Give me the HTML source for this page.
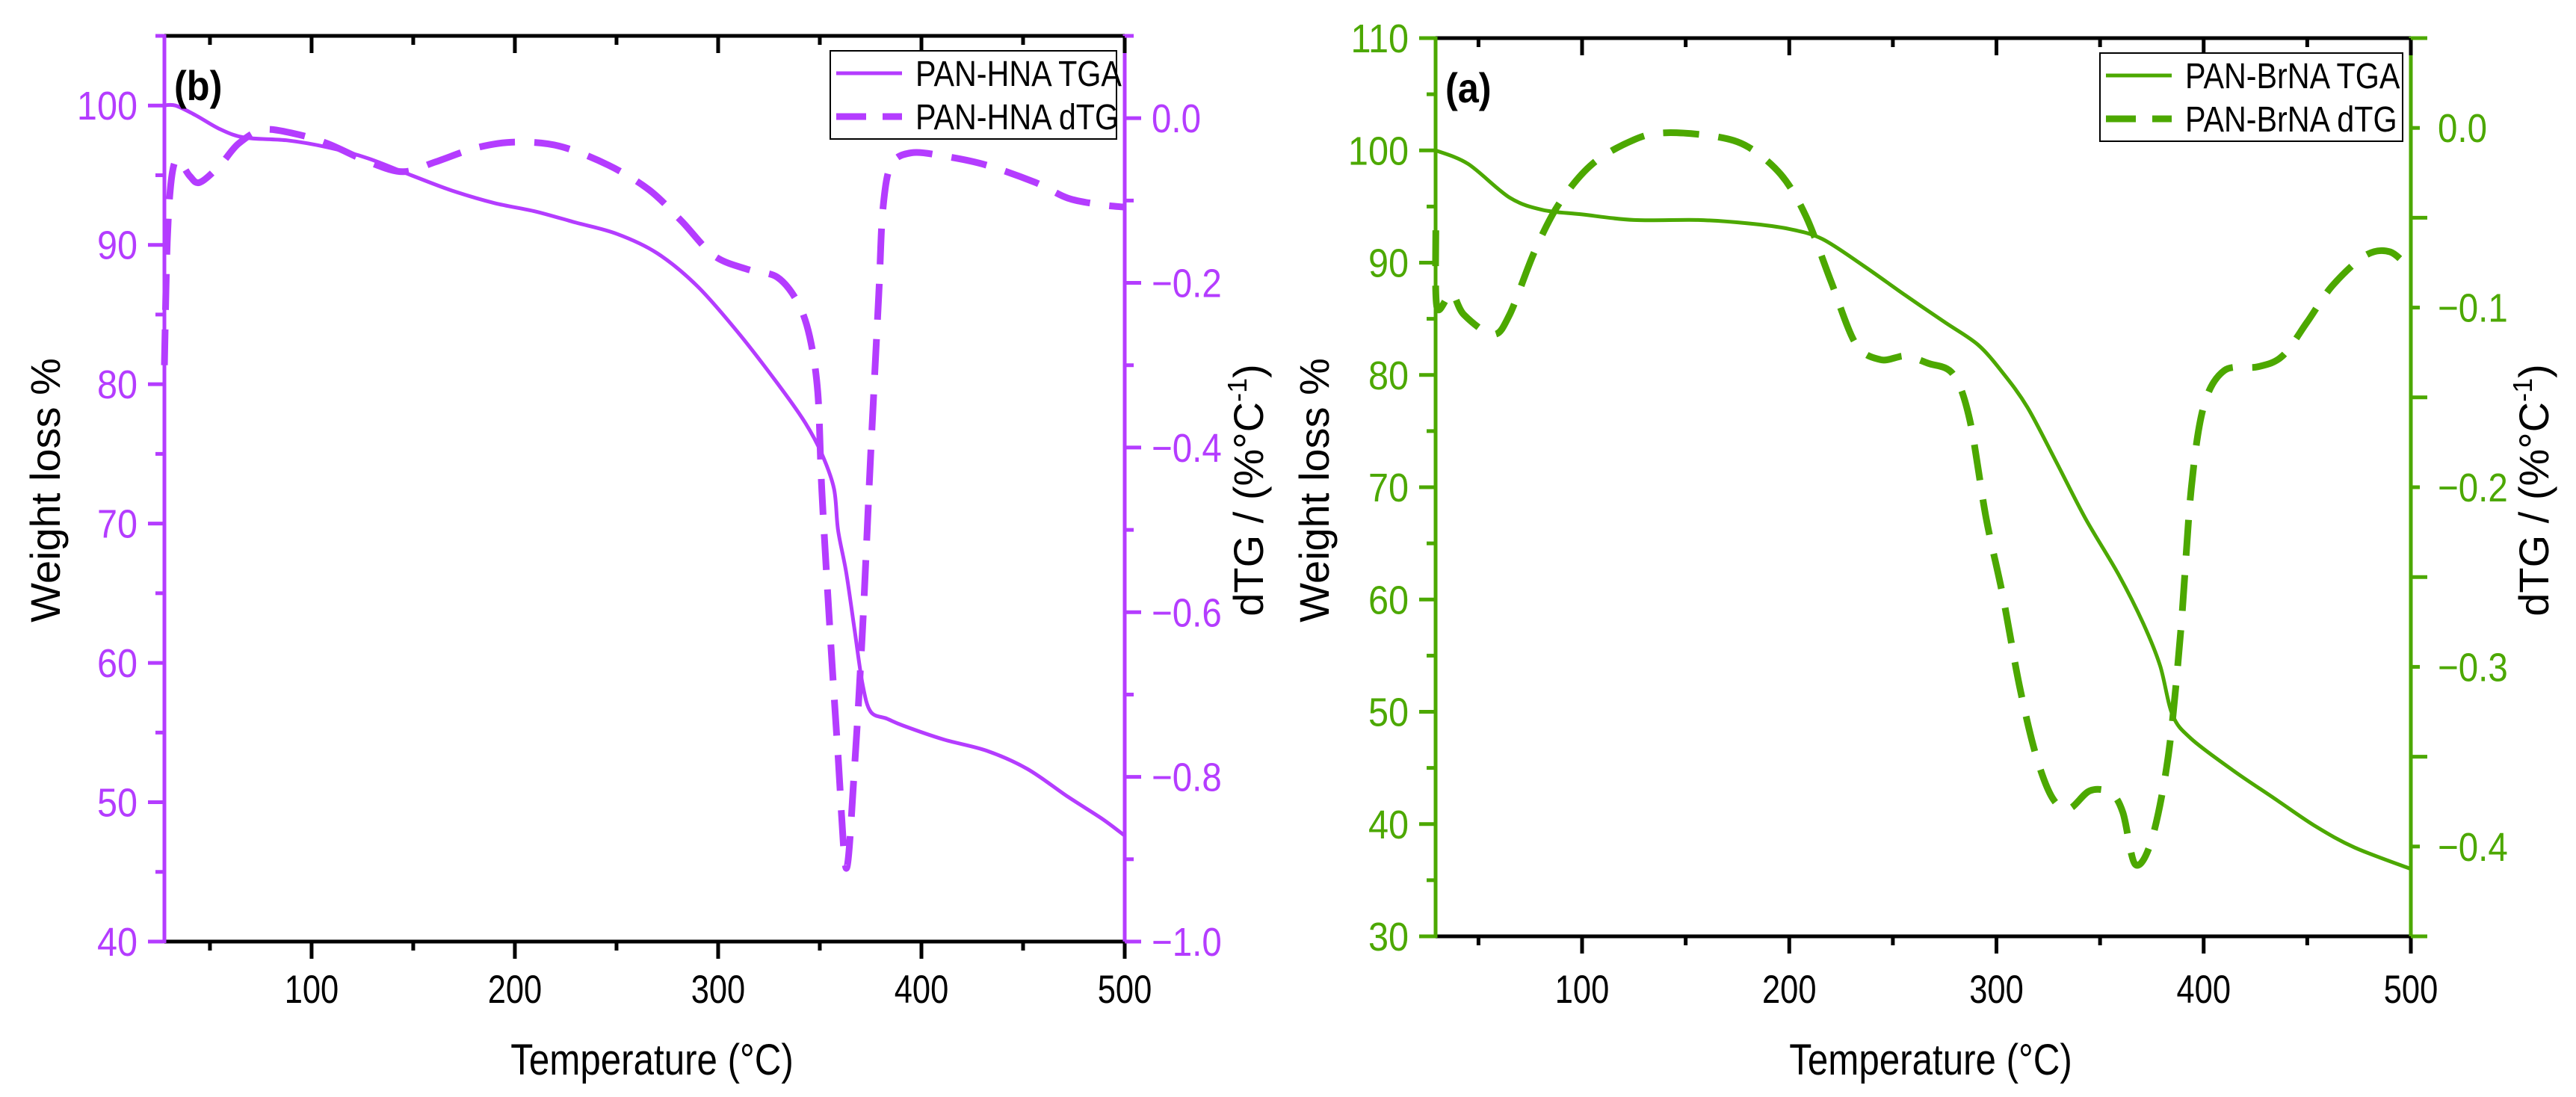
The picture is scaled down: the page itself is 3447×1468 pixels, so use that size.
<!DOCTYPE html>
<html><head><meta charset="utf-8"><style>
html,body{margin:0;padding:0;background:#fff}
svg{display:block}
text{font-family:"Liberation Sans",Arial,sans-serif}
</style></head><body>
<svg id="chart" xmlns="http://www.w3.org/2000/svg" width="3447" height="1468" viewBox="0 0 3447 1468"></svg>
<script>
// ---- Panel (b): PAN-HNA ----
const hnaTgaT = [27,33,43,55,67,88,108,128,149,169,190,210,230,250,270,290,311,331,343,351,357,359,363,367,371,375,383,391,411,432,452,472,489,500];
const hnaTgaW = [100,100,99.3,98.3,97.7,97.5,97.0,96.2,95.0,93.9,93.0,92.4,91.6,90.8,89.4,87.0,83.5,79.7,77.2,75.0,72.5,69.5,66.5,62.5,58.5,56.5,56.0,55.5,54.5,53.7,52.4,50.4,48.8,47.6];
const hnaDtgT = [27.6,29,31,34,40,45,55,64,76,92,108,128,145,161,181,200,222,246,266,282,298,315,329,339,345,349,351,355,359,363,367,371,375,379,381,385,395,411,432,456,472,488,500];
const hnaDtgV = [-0.3,-0.15,-0.075,-0.05,-0.07,-0.078,-0.057,-0.031,-0.014,-0.019,-0.031,-0.053,-0.065,-0.053,-0.036,-0.029,-0.034,-0.057,-0.087,-0.125,-0.167,-0.184,-0.193,-0.223,-0.265,-0.333,-0.452,-0.622,-0.775,-0.911,-0.792,-0.622,-0.41,-0.214,-0.112,-0.057,-0.042,-0.046,-0.057,-0.078,-0.097,-0.105,-0.108];
// ---- Panel (a): PAN-BrNA ----
const brTgaT = [29.4,45,65,81,100,125,156,180,200,216,236,256,275,291,303,315,329,343,359,371,379,385,394,414,434,454,473,500];
const brTgaW = [100,98.8,95.8,94.7,94.3,93.8,93.8,93.5,93.0,92.1,89.7,87.1,84.7,82.7,80.2,77.1,72.2,67.2,62.2,57.8,54.1,49.7,47.6,44.8,42.3,39.8,37.9,36.0];
const brDtgT = [29.4,30,37,43,57,65,77,89,105,125,140,164,180,196,208,220,232,244,256,267,279,287,295,303,311,319,327,335,345,355,361,367,375,383,389,394,400,410,426,438,450,462,478,490,500];
const brDtgV = [-0.057,-0.1,-0.092,-0.104,-0.115,-0.104,-0.069,-0.042,-0.020,-0.0066,-0.0027,-0.0047,-0.0105,-0.026,-0.049,-0.085,-0.12,-0.129,-0.127,-0.131,-0.137,-0.162,-0.217,-0.26,-0.31,-0.349,-0.373,-0.379,-0.369,-0.37,-0.381,-0.41,-0.396,-0.349,-0.279,-0.201,-0.155,-0.135,-0.133,-0.127,-0.108,-0.088,-0.071,-0.069,-0.079];
const xTicks = [100,200,300,400,500];
const hnaLeftTicks = [40,50,60,70,80,90,100];
const hnaRightTicks = [-1.0,-0.8,-0.6,-0.4,-0.2,0.0];
const brLeftTicks = [30,40,50,60,70,80,90,100,110];
const brRightTicks = [-0.4,-0.3,-0.2,-0.1,0.0];

const NS = "http://www.w3.org/2000/svg";
const svg = document.getElementById('chart');
function mk(tag, attrs, parent){
  const e = document.createElementNS(NS, tag);
  for (const k in attrs) e.setAttribute(k, attrs[k]);
  (parent||svg).appendChild(e);
  return e;
}
function txt(s, x, y, size, color, anchor, parent, weight, sx){
  const t = mk('text', {x:0, y:0, 'font-size':size, fill:color, 'text-anchor':anchor||'start',
    transform:'translate('+x+','+y+') scale('+(sx||0.88)+',1)'}, parent);
  if (weight) t.setAttribute('font-weight', weight);
  t.textContent = s;
  return t;
}
function fmt(v){ return (v<0?'\u2212':'') + Math.abs(v).toFixed(1); }
function smoothPath(pts){
  let d = 'M' + pts[0][0].toFixed(1) + ' ' + pts[0][1].toFixed(1);
  for (let i = 0; i < pts.length - 1; i++){
    const p0 = pts[Math.max(0,i-1)], p1 = pts[i], p2 = pts[i+1], p3 = pts[Math.min(pts.length-1,i+2)];
    const k = 0.16;
    const c1x = p1[0] + (p2[0]-p0[0])*k, c1y = p1[1] + (p2[1]-p0[1])*k;
    const c2x = p2[0] - (p3[0]-p1[0])*k, c2y = p2[1] - (p3[1]-p1[1])*k;
    d += 'C' + c1x.toFixed(1)+' '+c1y.toFixed(1)+' '+c2x.toFixed(1)+' '+c2y.toFixed(1)+' '+p2[0].toFixed(1)+' '+p2[1].toFixed(1);
  }
  return d;
}

function panel(cfg){
  const g = mk('g', {});
  
  
  const X = t => cfg.x0 + (t - cfg.tmin) * (cfg.x1 - cfg.x0) / (500 - cfg.tmin);
  const YL = v => cfg.y1 - (v - cfg.lmin) * (cfg.y1 - cfg.y0) / (cfg.lmax - cfg.lmin);
  const YR = v => cfg.y1 - (v - cfg.rmin) * (cfg.y1 - cfg.y0) / (cfg.rmax - cfg.rmin);
  const col = cfg.color;
  const p1 = mk('path', {d:smoothPath(cfg.tgaT.map((t,i)=>[X(t), YL(cfg.tgaW[i])])), fill:'none', stroke:col, 'stroke-width':5, 'stroke-linejoin':'round'}, g);
  
  
  const p2 = mk('path', {d:smoothPath(cfg.dtgT.map((t,i)=>[X(t), YR(cfg.dtgV[i])])), fill:'none', stroke:col, 'stroke-width':9, 'stroke-dasharray':'48,26', 'stroke-linejoin':'round'}, g);
  
  
  const ax = mk('g', {}, g);
  
  
  mk('line', {x1:cfg.x0, y1:cfg.y1, x2:cfg.x1, y2:cfg.y1, stroke:'#000', 'stroke-width':5}, ax);
  mk('line', {x1:cfg.x0, y1:cfg.y0, x2:cfg.x1, y2:cfg.y0, stroke:'#000', 'stroke-width':5}, ax);
  mk('line', {x1:cfg.x0, y1:cfg.y0-2, x2:cfg.x0, y2:cfg.y1+2, stroke:col, 'stroke-width':5}, ax);
  mk('line', {x1:cfg.x1, y1:cfg.y0-2, x2:cfg.x1, y2:cfg.y1+2, stroke:col, 'stroke-width':5}, ax);
  for (let t = 50; t <= 500; t += 50){
    if (t < cfg.tmin) continue;
    const major = t % 100 === 0;
    const x = X(t);
    mk('line', {x1:x, y1:cfg.y1, x2:x, y2:cfg.y1 + (major?23:12), stroke:'#000', 'stroke-width':5}, ax);
    mk('line', {x1:x, y1:cfg.y0, x2:x, y2:cfg.y0 + (major?23:12), stroke:'#000', 'stroke-width':5}, ax);
  }
  xTicks.forEach(t => {
    const l = txt(String(t), X(t), 1342, 53, '#000', 'middle', ax, null, 0.82);
    
    
  });
  for (let v = cfg.lmin; v <= cfg.lmax + 1e-9; v += cfg.lstep/2){
    const y = YL(v);
    const major = Math.abs(((v - cfg.lmin) / cfg.lstep) - Math.round((v - cfg.lmin) / cfg.lstep)) < 1e-6;
    mk('line', {x1:cfg.x0, y1:y, x2:cfg.x0 - (major?22:12), y2:y, stroke:col, 'stroke-width':5}, ax);
  }
  cfg.lticks.forEach(v => {
    const l = txt(String(v), cfg.x0 - 36, YL(v) + 19, 54, col, 'end', ax, null, 0.9);
    
    
  });
  for (let k = 0; ; k++){
    const v = cfg.rmin + k * cfg.rstep/2;
    if (v > cfg.rmax + 1e-9) break;
    const y = YR(v);
    const major = k % 2 === 0;
    mk('line', {x1:cfg.x1, y1:y, x2:cfg.x1 + (major?22:12), y2:y, stroke:col, 'stroke-width':5}, ax);
  }
  cfg.rticks.forEach(v => {
    const l = txt(fmt(v), cfg.x1 + 36, YR(v) + 19, 54, col, 'start', ax, null, 0.88);
    
    
  });
  const xt = txt('Temperature (\u00B0C)', (cfg.x0+cfg.x1)/2 + 10, 1438, 58, '#000', 'middle', g, null, 0.85);
  
  
  const yt = mk('text', {x:0, y:0, 'font-size':56, fill:'#000', 'text-anchor':'middle', transform:'translate('+cfg.ltitleX+',656) rotate(-90)'}, g);
  yt.textContent = 'Weight loss %';
  
  
  const rt = mk('text', {x:0, y:0, 'font-size':56, fill:'#000', 'text-anchor':'middle', transform:'translate('+cfg.rtitleX+',656) rotate(-90)'}, g);
  rt.innerHTML = 'dTG / (%\u00B0C<tspan font-size="36" dy="-22">-1</tspan><tspan dy="22">)</tspan>';
  
  
  const pl = txt(cfg.label, cfg.x0 + 13, cfg.y0 + 86, 56, '#000', 'start', g, 'bold', 0.9);
  
  
  const lg = mk('g', {}, g);
  
  
  mk('rect', {x:cfg.legX, y:cfg.y0+20, width:cfg.x1-11-cfg.legX, height:118, fill:'#fff', stroke:'#000', 'stroke-width':2}, lg);
  mk('line', {x1:cfg.legX+8, y1:cfg.y0+50, x2:cfg.legX+96, y2:cfg.y0+50, stroke:col, 'stroke-width':5}, lg);
  mk('line', {x1:cfg.legX+8, y1:cfg.y0+108, x2:cfg.legX+96, y2:cfg.y0+108, stroke:col, 'stroke-width':9, 'stroke-dasharray':'40,22'}, lg);
  const e1 = txt(cfg.name1, cfg.legX+114, cfg.y0+67, 48, '#000', 'start', lg, null, 0.86);
  
  
  const e2 = txt(cfg.name2, cfg.legX+114, cfg.y0+125, 48, '#000', 'start', lg, null, 0.86);
  
  
}

panel({name:'panel-b-hna', color:'#b43cff', x0:220, x1:1505, y0:48, y1:1260, tmin:27.6,
  lmin:40, lmax:105, lstep:10, rmin:-1.0, rmax:0.1, rstep:0.2,
  lticks:hnaLeftTicks, rticks:hnaRightTicks, tgaT:hnaTgaT, tgaW:hnaTgaW, dtgT:hnaDtgT, dtgV:hnaDtgV,
  ltitleX:80, rtitleX:1690, label:'(b)', legX:1111, name1:'PAN-HNA TGA', name2:'PAN-HNA dTG'});
panel({name:'panel-a-brna', color:'#4ca800', x0:1921, x1:3226, y0:51, y1:1253, tmin:29.3,
  lmin:30, lmax:110, lstep:10, rmin:-0.45, rmax:0.05, rstep:0.1,
  lticks:brLeftTicks, rticks:brRightTicks, tgaT:brTgaT, tgaW:brTgaW, dtgT:brDtgT, dtgV:brDtgV,
  ltitleX:1778, rtitleX:3410, label:'(a)', legX:2810, name1:'PAN-BrNA TGA', name2:'PAN-BrNA dTG'});
</script>
</body></html>
